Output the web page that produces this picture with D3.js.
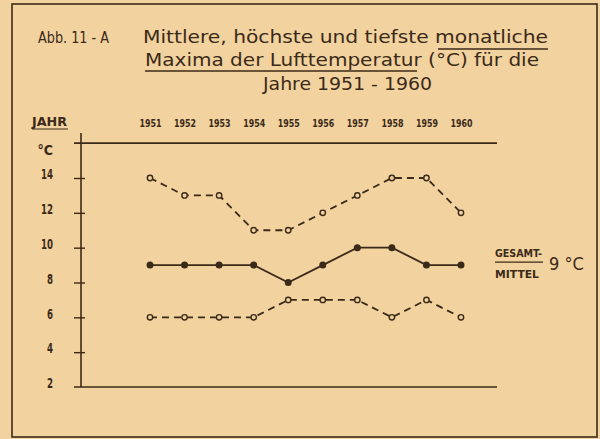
<!DOCTYPE html>
<html>
<head>
<meta charset="utf-8">
<script src="https://d3js.org/d3.v7.min.js"></script>
<style>
  body { margin: 0; background: #f2d29e; }
  svg text { font-family: "DejaVu Sans Condensed", "Liberation Sans Narrow", sans-serif; fill: #3b2a19; }
</style>
</head>
<body>
<svg width="600" height="439"></svg>
<script>
var years = [1951, 1952, 1953, 1954, 1955, 1956, 1957, 1958, 1959, 1960];
var hoechste = [14, 13, 13, 11, 11, 12, 13, 14, 14, 12];
var mittlere = [9, 9, 9, 9, 8, 9, 10, 10, 9, 9];
var tiefste = [6, 6, 6, 6, 7, 7, 7, 6, 7, 6];
var yTicks = [2, 4, 6, 8, 10, 12, 14];
var gesamtMittel = 9;

var ink = "#3b2a19";
var svg = d3.select("svg");

// paper + frame
svg.append("rect").attr("width", 600).attr("height", 439).attr("fill", "#f2d29e");
svg.append("rect").attr("x", 12).attr("y", 4).attr("width", 585).attr("height", 433)
    .attr("fill", "none").attr("stroke", ink).attr("stroke-width", 1.6);

// title
var title = svg.append("g").style("font-size", "17px");
title.append("text").attr("x", 38).attr("y", 43).attr("textLength", 71)
    .attr("lengthAdjust", "spacingAndGlyphs").style("font-size", "15px").text("Abb. 11 - A");
title.append("text").attr("x", 143).attr("y", 43).attr("textLength", 405)
    .attr("lengthAdjust", "spacingAndGlyphs").text("Mittlere, höchste und tiefste monatliche");
title.append("text").attr("x", 145).attr("y", 66).attr("textLength", 394)
    .attr("lengthAdjust", "spacingAndGlyphs").text("Maxima der Lufttemperatur (°C) für die");
title.append("text").attr("x", 263).attr("y", 90).attr("textLength", 169)
    .attr("lengthAdjust", "spacingAndGlyphs").text("Jahre    1951 - 1960");
title.append("line").attr("x1", 438).attr("x2", 548).attr("y1", 49).attr("y2", 49)
    .attr("stroke", ink).attr("stroke-width", 1.4);
title.append("line").attr("x1", 145).attr("x2", 417).attr("y1", 71).attr("y2", 71)
    .attr("stroke", ink).attr("stroke-width", 1.4);

// scales
var x = d3.scaleLinear().domain([1951, 1960]).range([150, 461]);
var y = d3.scaleLinear().domain([2, 14]).range([387, 178]);

// frame lines of plot
svg.append("line").attr("x1", 81).attr("x2", 81).attr("y1", 133).attr("y2", 387)
    .attr("stroke", ink).attr("stroke-width", 1.6);
svg.append("line").attr("x1", 74).attr("x2", 497).attr("y1", y(16)).attr("y2", y(16))
    .attr("stroke", ink).attr("stroke-width", 1.6);
svg.append("line").attr("x1", 74).attr("x2", 497).attr("y1", y(2)).attr("y2", y(2))
    .attr("stroke", ink).attr("stroke-width", 1.6);

// y axis
var yAxis = svg.append("g").attr("transform", "translate(81,0)")
    .call(d3.axisLeft(y).tickValues(yTicks).tickSize(7).tickPadding(21));
yAxis.select(".domain").remove();
yAxis.selectAll(".tick line").attr("x2", -7).attr("x1", 4)
    .attr("stroke", ink).attr("stroke-width", 1.4)
    .filter(function (d) { return d === 2; }).remove();
yAxis.selectAll(".tick text").attr("dy", "0.05em").attr("fill", ink)
    .attr("textLength", function (d) { return d >= 10 ? 12 : 6; })
    .attr("lengthAdjust", "spacingAndGlyphs")
    .style("font-size", "14px").style("font-weight", "bold")
    .style("font-family", "'DejaVu Sans Condensed', sans-serif");
svg.append("text").attr("x", 53).attr("y", 155).attr("text-anchor", "end")
    .style("font-size", "14px").style("font-weight", "bold").text("°C");

// x axis labels (years on top)
var xAxis = svg.append("g").attr("transform", "translate(0,117)")
    .call(d3.axisTop(x).tickValues(years).tickFormat(d3.format("d")).tickSize(0).tickPadding(0));
xAxis.select(".domain").remove();
xAxis.selectAll(".tick text").attr("dy", "0.9em").attr("fill", ink)
    .attr("textLength", 22).attr("lengthAdjust", "spacingAndGlyphs")
    .style("font-size", "11px").style("font-weight", "bold")
    .style("font-family", "'DejaVu Sans Condensed', sans-serif");
svg.append("text").attr("x", 32).attr("y", 126).attr("textLength", 35)
    .attr("lengthAdjust", "spacingAndGlyphs")
    .style("font-size", "12px").style("font-weight", "bold").text("JAHR");
svg.append("line").attr("x1", 32).attr("x2", 68).attr("y1", 129).attr("y2", 129)
    .attr("stroke", ink).attr("stroke-width", 1.2);

// series
var series = [
  { values: hoechste, dash: "7,5", filled: false },
  { values: mittlere, dash: null, filled: true },
  { values: tiefste, dash: "7,5", filled: false }
];
var line = d3.line().x(function (d, i) { return x(years[i]); }).y(function (d) { return y(d); });

series.forEach(function (s) {
  svg.append("path").datum(s.values).attr("d", line)
      .attr("fill", "none").attr("stroke", ink).attr("stroke-width", 1.8)
      .attr("stroke-dasharray", s.dash);
  svg.append("g").selectAll("circle").data(s.values).join("circle")
      .attr("cx", function (d, i) { return x(years[i]); })
      .attr("cy", function (d) { return y(d); })
      .attr("r", s.filled ? 2.8 : 2.7)
      .attr("fill", s.filled ? ink : "#f2d29e")
      .attr("stroke", ink).attr("stroke-width", 1.4);
});

// Gesamtmittel label
var gm = svg.append("g");
gm.append("text").attr("x", 495).attr("y", 257).attr("textLength", 47)
    .attr("lengthAdjust", "spacingAndGlyphs")
    .style("font-size", "11px").style("font-weight", "bold").text("GESAMT-");
gm.append("line").attr("x1", 495).attr("x2", 543).attr("y1", y(gesamtMittel) - 3).attr("y2", y(gesamtMittel) - 3)
    .attr("stroke", ink).attr("stroke-width", 1.3);
gm.append("text").attr("x", 495).attr("y", 278).attr("textLength", 44)
    .attr("lengthAdjust", "spacingAndGlyphs")
    .style("font-size", "11px").style("font-weight", "bold").text("MITTEL");
gm.append("text").attr("x", 549).attr("y", 270)
    .style("font-size", "18px").text(gesamtMittel + " °C");
</script>
</body>
</html>
